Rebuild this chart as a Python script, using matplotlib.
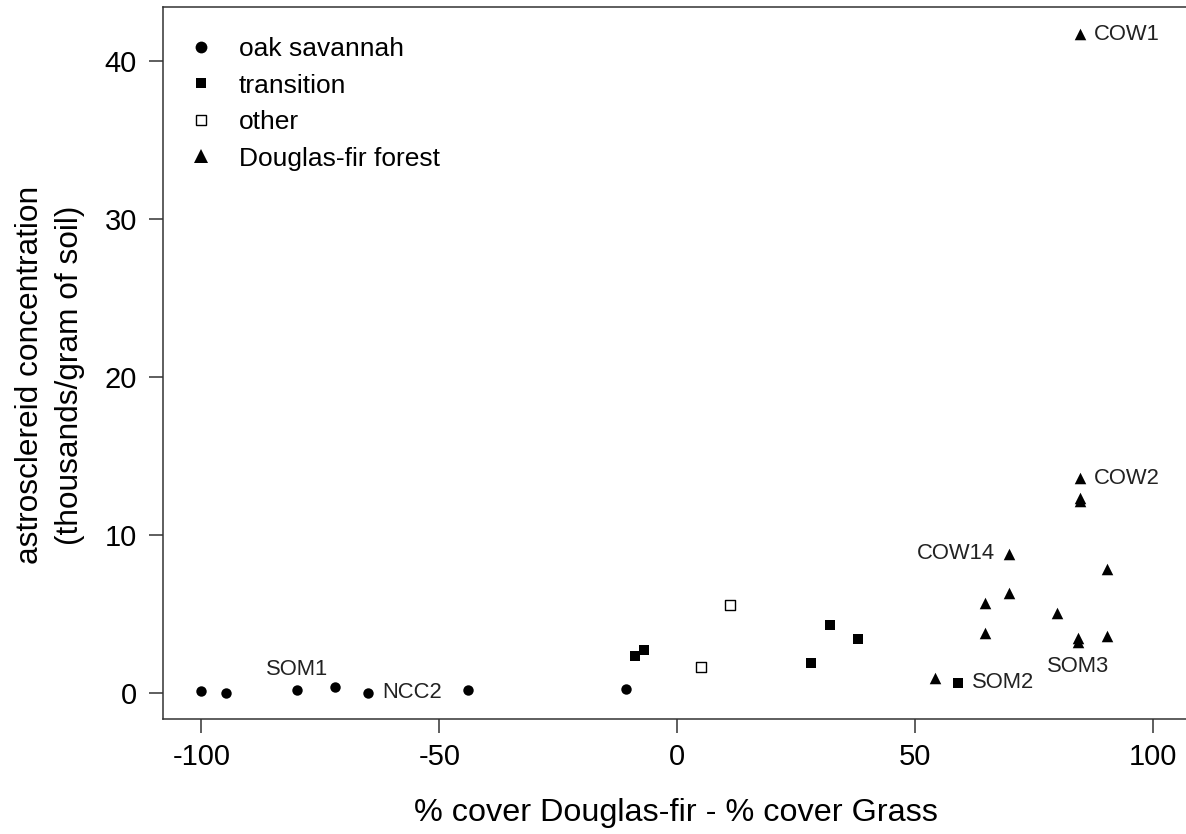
import matplotlib
matplotlib.use("Agg")
import matplotlib.pyplot as plt
from matplotlib.lines import Line2D

plt.rcParams["font.family"] = ["Liberation Sans", "DejaVu Sans"]
plt.rcParams["axes.unicode_minus"] = False

# oak savannah sites (filled circles)
oak_x = [-100, -94.8, -79.9, -71.9, -65, -44, -10.8]
oak_y = [0.10, 0.0, 0.19, 0.35, 0.0, 0.19, 0.23]

# transition sites (filled squares)
trans_x = [-9, -7, 28, 32, 38, 59]
trans_y = [2.34, 2.70, 1.90, 4.30, 3.42, 0.65]

# other sites (open squares)
other_x = [11, 5]
other_y = [5.59, 1.62]

# Douglas-fir forest sites (filled triangles)
fir_x = [84.6, 84.6, 84.6, 84.6, 69.6, 90.2, 69.6, 64.7, 79.7, 64.7, 84.2, 84.2, 90.2, 54.2]
fir_y = [41.66, 13.58, 12.13, 12.35, 8.80, 7.85, 6.30, 5.67, 5.06, 3.77, 3.50, 3.20, 3.63, 0.92]

# labelled sites: name, x, y, placement
site_names = ["COW1", "COW2", "COW14", "SOM2", "SOM3", "SOM1", "NCC2"]
site_x = [84.6, 84.6, 69.6, 59, 84.2, -79.9, -65]
site_y = [41.66, 13.58, 8.80, 0.65, 3.20, 0.19, 0.0]
site_pos = ["right", "right", "left", "right", "below", "above", "right"]

fig = plt.figure(figsize=(11.86, 8.34), dpi=100)
ax = fig.add_axes([163.3 / 1186, 1 - 719.3 / 834, (1191.4 - 163.3) / 1186, (719.3 - 7.3) / 834])

ax.scatter(oak_x, oak_y, marker="o", s=7.5 ** 2, color="black", linewidths=0)
ax.scatter(trans_x, trans_y, marker="s", s=7.2 ** 2, color="black", linewidths=0)
ax.scatter(other_x, other_y, marker="s", s=6.5 ** 2, facecolors="white",
           edgecolors="black", linewidths=1.0)
ax.scatter(fir_x, fir_y, marker="^", s=8.3 ** 2, color="black", linewidths=0)

offsets = {"right": ((10, 0), "left", "center"),
           "left": ((-10, 0), "right", "center"),
           "below": ((0, -10), "center", "top"),
           "above": ((0, 7), "center", "bottom")}
for name, x, y, pos in zip(site_names, site_x, site_y, site_pos):
    off, ha, va = offsets[pos]
    ax.annotate(name, xy=(x, y), xytext=off, textcoords="offset points",
                ha=ha, va=va, fontsize=15.8, color="#222222")

ax.set_xlim(-108, 108)
ax.set_ylim(-1.67, 43.37)
ax.set_xticks([-100, -50, 0, 50, 100])
ax.set_yticks([0, 10, 20, 30, 40])
ax.tick_params(axis="both", labelsize=21, length=10, width=1.1, color="#333333",
               labelcolor="black")
ax.tick_params(axis="x", pad=7)
ax.tick_params(axis="y", pad=9)
for sp in ax.spines.values():
    sp.set_linewidth(1.1)
    sp.set_color("#333333")

fig.text(676 / 1186, 1 - 821 / 834, "% cover Douglas-fir - % cover Grass",
         ha="center", va="baseline", fontsize=23.3)
fig.text(38.5 / 1186, 1 - 375 / 834, "astrosclereid concentration",
         ha="center", va="baseline", rotation=90, rotation_mode="anchor", fontsize=22.8)
fig.text(78 / 1186, 1 - 375 / 834, "(thousands/gram of soil)",
         ha="center", va="baseline", rotation=90, rotation_mode="anchor", fontsize=22.8)

handles = [
    Line2D([], [], ls="none", marker="o", ms=8.5, color="black", mew=0),
    Line2D([], [], ls="none", marker="s", ms=7.8, color="black", mew=0),
    Line2D([], [], ls="none", marker="s", ms=7.0, mfc="white", mec="black", mew=1.0),
    Line2D([], [], ls="none", marker="^", ms=9.5, color="black", mew=0),
]
labels = ["oak savannah", "transition", "other", "Douglas-fir forest"]
ax.legend(handles, labels, loc="upper left", bbox_to_anchor=(25 / 1028, 1 - 30 / 712),
          frameon=False, fontsize=19, handlelength=1.0, handletextpad=0.92,
          labelspacing=0.47, borderpad=0, borderaxespad=0)

fig.savefig("out.png", dpi=100)
